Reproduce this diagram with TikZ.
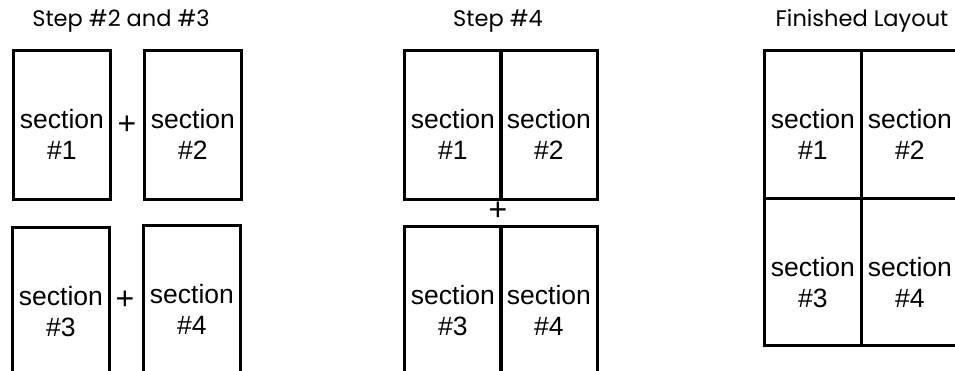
\documentclass[tikz,border=0pt]{standalone}
\usepackage{fontspec}
\setmainfont{Liberation Sans}
\newfontfamily\titlefont{Poppins}
\begin{document}
\begin{tikzpicture}[x=1pt,y=-1pt,
  secbox/.style={draw=black,line width=2.8pt,minimum width=97pt,minimum height=149pt,inner sep=0pt,anchor=north west},
  seclbl/.style={align=center,font=\fontsize{26.5}{31}\selectfont,inner sep=0pt},
  plus/.style={font=\fontsize{32}{32}\selectfont,inner sep=0pt},
  steptitle/.style={font=\titlefont\fontsize{22.5}{24}\selectfont,inner sep=0pt}]
\useasboundingbox (0,0) rectangle (955,371);
\clip (0,0) rectangle (955,371);
% titles
\node[steptitle] (t1) at (121,21) {Step \#2 and \#3};
\node[steptitle] (t2) at (498,21) {Step \#4};
\node[steptitle] (t3) at (862,21) {Finished Layout};
% step 2 and 3
\node[secbox] (a1) at (12,49) {};
\node[secbox] (a2) at (143,49) {};
\node[secbox] (a3) at (11,226) {};
\node[secbox] (a4) at (142,224) {};
\node[plus] (p1) at (127,125) {+};
\node[plus] (p2) at (125,300) {+};
% step 4
\node[secbox] (b1) at (403,49) {};
\node[secbox] (b2) at (499,49) {};
\node[secbox] (b3) at (403,225) {};
\node[secbox] (b4) at (499,225) {};
\node[plus] (p3) at (498,211) {+};
% finished
\node[secbox,minimum height=148pt] (c1) at (763,49) {};
\node[secbox,minimum height=148pt] (c2) at (860,49) {};
\node[secbox,minimum height=147pt] (c3) at (763,197) {};
\node[secbox,minimum height=147pt] (c4) at (860,197) {};
% labels
\foreach \n/\k in {a1/1,a2/2,a3/3,a4/4,b1/1,b2/2,b3/3,b4/4}{
  \node[seclbl] (l\n) at ([yshift=-9.5pt]\n.center) {section\\\#\k};
}
\foreach \n/\k in {c1/1,c2/2,c3/3,c4/4}{
  \node[seclbl] (l\n) at ([yshift=-10.5pt]\n.center) {section\\\#\k};
}
\end{tikzpicture}
\end{document}
